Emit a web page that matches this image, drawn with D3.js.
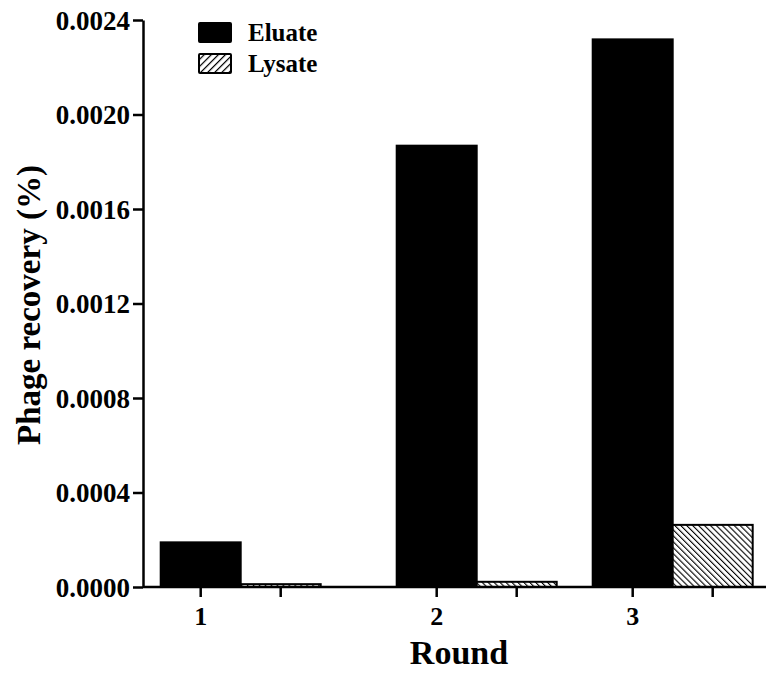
<!DOCTYPE html>
<html>
<head>
<meta charset="utf-8">
<script src="https://cdn.jsdelivr.net/npm/d3@7"></script>
<style>
  html, body { margin: 0; padding: 0; background: #fff; }
  svg { display: block; font-family: "Liberation Serif", "Times New Roman", serif; font-weight: bold; }
</style>
</head>
<body>
<svg id="chart" width="766" height="675"></svg>
<script>
// ---- data ----
const rounds = ["1", "2", "3"];
const seriesNames = ["Eluate", "Lysate"];
const eluateValues = [0.000189, 0.001868, 0.002318];
const lysateValues = [0.000012, 0.000022, 0.000263];
const yTickValues = [0, 0.0004, 0.0008, 0.0012, 0.0016, 0.0020, 0.0024];
const yTickLabels = ["0.0000", "0.0004", "0.0008", "0.0012", "0.0016", "0.0020", "0.0024"];
const xTitle = "Round";
const yTitle = "Phage recovery (%)";

// ---- layout ----
const svg = d3.select("#chart");
const axisX = 143, axisY = 587, axisTop = 20;
const groupStart = d3.scaleOrdinal().domain(rounds).range([0, 2.95, 5.4]); // in bar-width units
const slot = d3.scaleLinear().domain([0, 7.4]).range([160.7, 752.7]);
const y = d3.scaleLinear().domain([0, 0.0024]).range([axisY, axisTop]);

const defs = svg.append("defs");
// bar hatch "\"
const p1 = defs.append("pattern").attr("id", "hatchBar").attr("patternUnits", "userSpaceOnUse")
  .attr("width", 4.2).attr("height", 4.2).attr("patternTransform", "rotate(-45)");
p1.append("rect").attr("width", 4.2).attr("height", 4.2).attr("fill", "#fff");
p1.append("line").attr("x1", 0).attr("y1", 0).attr("x2", 0).attr("y2", 4.2).attr("stroke", "#000").attr("stroke-width", 2.2);
// legend hatch "/"
const p2 = defs.append("pattern").attr("id", "hatchLeg").attr("patternUnits", "userSpaceOnUse")
  .attr("width", 5).attr("height", 5).attr("patternTransform", "rotate(45)");
p2.append("rect").attr("width", 5).attr("height", 5).attr("fill", "#fff");
p2.append("line").attr("x1", 0).attr("y1", 0).attr("x2", 0).attr("y2", 5).attr("stroke", "#000").attr("stroke-width", 2.4);

const fills = ["#000", "url(#hatchBar)"];
const seriesValues = [eluateValues, lysateValues];

const bars = [];
rounds.forEach((r, gi) => {
  seriesValues.forEach((vals, si) => {
    bars.push({ round: r, series: si, value: vals[gi] });
  });
});

svg.append("g").selectAll("rect").data(bars).join("rect")
  .attr("x", d => slot(groupStart(d.round) + d.series))
  .attr("width", d => slot(groupStart(d.round) + d.series + 1) - slot(groupStart(d.round) + d.series))
  .attr("y", d => y(d.value))
  .attr("height", d => y(0) - y(d.value))
  .attr("fill", d => fills[d.series])
  .attr("stroke", "#000")
  .attr("stroke-width", 2);

// ---- y axis ----
const yAxis = d3.axisLeft(y).tickValues(yTickValues)
  .tickFormat((d, i) => yTickLabels[i]).tickSize(10).tickSizeOuter(0).tickPadding(3);
const gy = svg.append("g").attr("transform", `translate(${axisX},0)`).call(yAxis);
gy.select(".domain").attr("stroke-width", 2.5);
gy.selectAll(".tick line").attr("stroke-width", 2.5);
gy.selectAll(".tick text").attr("font-size", 27).attr("font-family", "Liberation Serif").attr("font-weight", "bold").attr("fill", "#000").attr("dy", "0.34em");

// ---- x axis ----
svg.append("line").attr("x1", axisX).attr("x2", 766).attr("y1", axisY).attr("y2", axisY)
  .attr("stroke", "#000").attr("stroke-width", 2.5);
svg.append("g").selectAll("line").data(bars).join("line")
  .attr("x1", d => slot(groupStart(d.round) + d.series + 0.5))
  .attr("x2", d => slot(groupStart(d.round) + d.series + 0.5))
  .attr("y1", axisY).attr("y2", axisY + 10)
  .attr("stroke", "#000").attr("stroke-width", 2.5);
svg.append("g").selectAll("text").data(rounds).join("text")
  .attr("x", d => slot(groupStart(d) + 0.5))
  .attr("y", 625)
  .attr("text-anchor", "middle")
  .attr("font-size", 26)
  .text(d => d);

// ---- titles ----
svg.append("text").attr("x", 459).attr("y", 664).attr("text-anchor", "middle")
  .attr("font-size", 34).text(xTitle);
svg.append("text").attr("transform", "translate(40,305) rotate(-90)").attr("text-anchor", "middle")
  .attr("font-size", 33).text(yTitle);

// ---- legend ----
const leg = svg.append("g").attr("transform", "translate(198,22)");
seriesNames.forEach((name, i) => {
  const g = leg.append("g").attr("transform", `translate(0,${i * 31})`);
  g.append("rect").attr("x", 1).attr("y", 1).attr("width", 32).attr("height", 19)
    .attr("fill", i === 0 ? "#000" : "url(#hatchLeg)").attr("stroke", "#000").attr("stroke-width", 2).attr("rx", 1);
  g.append("text").attr("x", 50).attr("y", 19).attr("font-size", 25).text(name);
});
</script>
</body>
</html>
